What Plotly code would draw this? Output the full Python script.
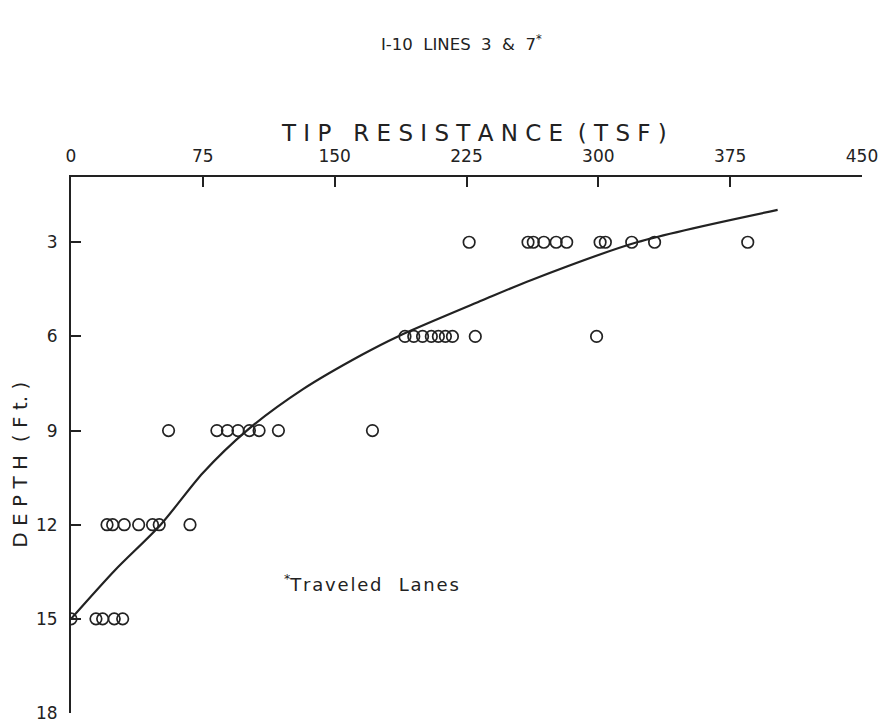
import plotly.graph_objects as go

# Measured tip resistance (TSF) at each depth (ft)
depth_3 = [226.5, 260, 263, 269, 276, 282, 301, 304, 319, 332, 385]
depth_6 = [190, 195, 200, 205, 209, 213, 217, 230, 299]
depth_9 = [55.5, 83, 89, 95, 101.5, 107, 118, 171.5]
depth_12 = [20.5, 23.7, 30.3, 38.5, 46.4, 50.2, 67.7]
depth_15 = [0, 14.2, 18, 24.6, 29.4]

# Hand-drawn trend curve (TSF, depth ft)
curve_tsf = [0, 25, 51, 75, 100, 132, 165, 186, 234, 262, 322, 402]
curve_depth = [15, 13.45, 12, 10.35, 9.0, 7.68, 6.6, 6.0, 4.85, 4.2, 3.0, 1.97]

x_ticks = [0, 75, 150, 225, 300, 375, 450]
y_ticks = [3, 6, 9, 12, 15, 18]

xs, ys = [], []
for d, vals in [(3, depth_3), (6, depth_6), (9, depth_9), (12, depth_12), (15, depth_15)]:
    xs += vals
    ys += [d] * len(vals)

ink = "#222222"
font_family = "DejaVu Sans, Arial, sans-serif"

L, R, T, B = 63, 34, 169, 12
W, H = 888, 727
pw, ph = W - L - R, H - T - B


def px(xp):
    return (xp - L) / pw


def py(yp):
    return (H - B - yp) / ph


hair = "\u200a"
note_text = "<sup>*</sup>" + hair.join("Traveled") + "   " + hair.join("Lanes")

fig = go.Figure()
fig.add_trace(go.Scatter(
    x=curve_tsf, y=curve_depth, mode="lines",
    line=dict(color=ink, width=2.2, shape="spline", smoothing=0.8),
    showlegend=False, hoverinfo="skip"))
fig.add_trace(go.Scatter(
    x=xs, y=ys, mode="markers",
    marker=dict(symbol="circle-open", size=11.5, color=ink, line=dict(width=1.7, color=ink)),
    showlegend=False))

fig.update_layout(
    width=W, height=H,
    paper_bgcolor="white", plot_bgcolor="white",
    margin=dict(l=L, r=R, t=T, b=B),
    font=dict(family=font_family, color=ink, size=15),
    xaxis=dict(side="top", range=[0, 450], tickvals=x_ticks, ticktext=[str(v) for v in x_ticks],
               ticks="inside", ticklen=10, tickwidth=2, tickcolor=ink, ticklabelstandoff=6,
               showline=True, linewidth=2, linecolor=ink, showgrid=False, zeroline=False,
               tickfont=dict(size=17), fixedrange=True),
    yaxis=dict(range=[18, 0.92], tickvals=y_ticks, ticktext=[str(v) for v in y_ticks],
               ticks="inside", ticklen=10, tickwidth=2, tickcolor=ink, ticklabelstandoff=8,
               showline=True, linewidth=2, linecolor=ink, showgrid=False, zeroline=False,
               tickfont=dict(size=17), fixedrange=True),
    annotations=[
        dict(text="I-10  LINES  3  &amp;  7<sup>*</sup>", xref="paper", yref="paper",
             x=px(453), y=py(32), xanchor="center", yanchor="middle",
             showarrow=False, font=dict(size=16.5, family=font_family, color=ink)),
        dict(text="T I P   R E S I S T A N C E  ( T S F )", xref="paper", yref="paper",
             x=px(466), y=py(124), xanchor="center", yanchor="middle",
             showarrow=False, font=dict(size=23, family=font_family, color=ink)),
        dict(text="D E P T H  ( F t. )", xref="paper", yref="paper",
             x=px(12), y=py(462), xanchor="center", yanchor="middle",
             textangle=-90, showarrow=False, font=dict(size=20, family=font_family, color=ink)),
        dict(text=note_text, x=120, y=13.85, xref="x", yref="y",
             xanchor="left", yanchor="middle", showarrow=False,
             font=dict(size=18, family=font_family, color=ink)),
    ],
)

fig.write_html("out.html")
